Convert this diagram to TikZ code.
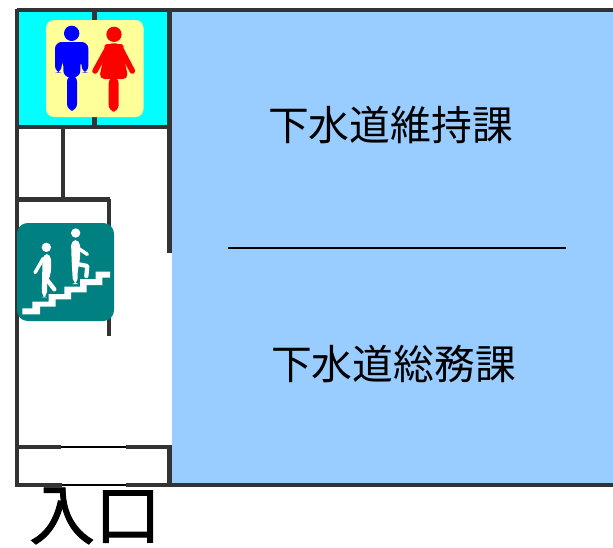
\documentclass[tikz,border=0pt]{standalone}
\usepackage{fontspec}
\newfontfamily\cjk{Noto Sans CJK JP}
\newfontfamily\cjkheavy[FakeBold=1.2]{Noto Sans CJK JP}
\definecolor{wall}{HTML}{333333}
\definecolor{roomblue}{HTML}{99CCFF}
\definecolor{roomcyan}{HTML}{00FFFF}
\definecolor{signyellow}{HTML}{FFFF99}
\definecolor{signteal}{HTML}{008080}
\definecolor{manblue}{HTML}{0000FF}
\definecolor{womanred}{HTML}{FF0000}
\tikzset{
  wallline/.style={wall,line width=3.2pt},
  thinwall/.style={black,line width=1.5pt},
  label/.style={font=\cjk,inner sep=0pt,black},
  pix/.style={x=0.75pt,y=-0.75pt},
  zoomed/.style={x=0.25pt,y=-0.25pt},
  limb/.style={line cap=round,line join=round,white}
}
\begin{document}
\begin{tikzpicture}[pix]
\useasboundingbox (0,0) rectangle (613,547);
% rooms
\fill[roomcyan] (18,12) rectangle (170,126);
\fill[roomblue] (172,11) rectangle (613,485);
% walls
\draw[wallline] (94.5,11) -- (94.5,126);
\draw[wallline,line width=2.8pt] (63,128) -- (63,199);
\draw[wallline] (17,10) -- (613,10);
\draw[wallline] (17,8.5) -- (17,487);
\draw[wallline] (169.5,10) -- (169.5,253);
\draw[wallline] (18,127) -- (169.5,127);
\draw[wallline] (18,199.5) -- (110,199.5);
\draw[wallline,line width=2.6pt] (109,199) -- (109,336);
% entrance
\draw[wallline] (169.5,445) -- (169.5,486);
\draw[thinwall] (60,447) -- (127,447);
\draw[thinwall] (60,485) -- (127,485);
\draw[wallline] (18,447) -- (61,447);
\draw[wallline] (126,447) -- (170,447);
\draw[wallline] (15,485) -- (62,485);
\draw[wallline] (126,485) -- (613,485);
% toilet sign
\fill[signyellow,rounded corners=6pt] (46,20) rectangle (143.5,117);
\begin{scope}[zoomed]
\fill[manblue] (215,100) circle[radius=23];
\fill[manblue,rounded corners=5pt] (165,126) -- (265,126) -- (265,218) -- (245,218) -- (245,178) -- (241,178) -- (241,232) -- (190,232) -- (190,178) -- (185,178) -- (185,218) -- (165,218) -- cycle;
\fill[manblue,rounded corners=5pt] (201,225) rectangle (231,332);
\fill[womanred] (342,103) circle[radius=23];
\draw[womanred,line width=4.2pt,line cap=round,line join=round] (322,146) -- (285,213);
\draw[womanred,line width=4.2pt,line cap=round,line join=round] (362,146) -- (397,213);
\fill[womanred,rounded corners=4pt] (320,130) -- (364,130) -- (385,237) -- (297,237) -- cycle;
\fill[womanred,rounded corners=5pt] (326,230) rectangle (356,335);
\draw[womanred,line width=4.4pt,line cap=round] (322,140) -- (362,140);
\end{scope}
% stairs sign
\fill[signteal,rounded corners=8pt] (17,223) rectangle (114,321);
\begin{scope}[zoomed,shift={(0,190*3)}]
\fill[white] (67,355) -- (97,355) -- (97,335) -- (146,335) -- (146,312) -- (193,312) -- (193,290) -- (240,290) -- (240,267) -- (287,267) -- (287,245) -- (330,245) -- (330,263) -- (307,263) -- (307,285) -- (260,285) -- (260,307) -- (213,307) -- (213,328) -- (167,328) -- (167,350) -- (120,350) -- (120,373) -- (67,373) -- cycle;
\fill[white] (139,172) circle[radius=14];
\fill[white,rounded corners=4pt] (128,192) -- (153,192) -- (153,255) -- (141,272) -- (141,322) -- (125,322) -- cycle;
\draw[limb,line width=2.6pt] (130,205) -- (105,248);
\draw[limb,line width=3.2pt] (140,268) -- (163,298);
\fill[white] (227,129) circle[radius=14];
\fill[white,rounded corners=4pt] (213,150) -- (240,150) -- (240,215) -- (233,235) -- (233,282) -- (219,282) -- (215,215) -- cycle;
\draw[limb,line width=3.2pt] (232,222) -- (262,228) -- (259,258);
\draw[limb,line width=2.6pt] (235,175) -- (262,193);
\end{scope}
% labels
\draw[black,line width=1.5pt] (228,247.5) -- (566,247.5);
\node[label,font=\cjk\fontsize{30.6pt}{30.6pt}\selectfont] (upper) at (390.5,125) {下水道維持課};
\node[label,font=\cjk\fontsize{30.6pt}{30.6pt}\selectfont] (lower) at (393.5,364) {下水道総務課};
\node[label,font=\cjkheavy\fontsize{49.5pt}{49.5pt}\selectfont] (entry) at (95,516) {入口};
\end{tikzpicture}
\end{document}
